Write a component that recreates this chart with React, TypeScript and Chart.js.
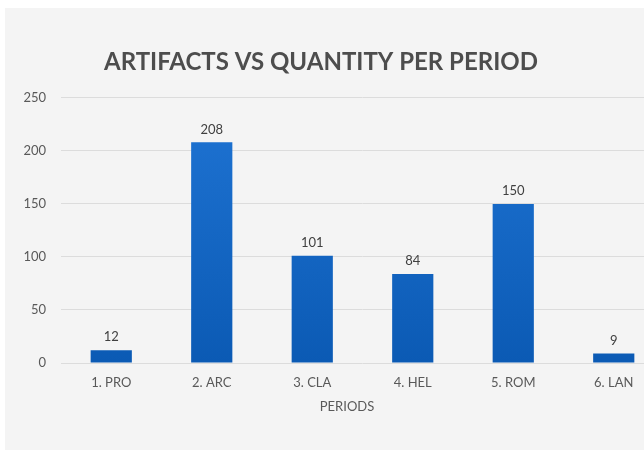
import React, { useEffect, useRef } from "react";
import { Chart, registerables } from "chart.js";

Chart.register(...registerables);

const categories = ["1. PRO", "2. ARC", "3. CLA", "4. HEL", "5. ROM", "6. LAN"];
const quantities = [12, 208, 101, 84, 150, 9];
const yMin = 0;
const yMax = 250;
const yStep = 50;
const chartTitle = "ARTIFACTS VS QUANTITY PER PERIOD";
const xAxisTitle = "PERIODS";

const FONT = "Lato, 'Open Sans', sans-serif";

export default function App() {
  const canvasRef = useRef<HTMLCanvasElement | null>(null);

  useEffect(() => {
    const canvas = canvasRef.current;
    if (!canvas) return;

    const dataLabels = {
      id: "dataLabels",
      afterDatasetsDraw(chart: any) {
        const ctx = chart.ctx;
        const meta = chart.getDatasetMeta(0);
        ctx.save();
        ctx.font = `13px ${FONT}`;
        ctx.fillStyle = "#404040";
        ctx.textAlign = "center";
        ctx.textBaseline = "middle";
        meta.data.forEach((bar: any, i: number) => {
          ctx.fillText(String(quantities[i]), bar.x, bar.y - 13);
        });
        ctx.restore();
      },
    };

    const axisTitle = {
      id: "axisTitle",
      afterDraw(chart: any) {
        const ctx = chart.ctx;
        const xs = chart.scales.x;
        ctx.save();
        ctx.font = `13px ${FONT}`;
        ctx.fillStyle = "#595959";
        ctx.textAlign = "center";
        ctx.textBaseline = "middle";
        ctx.fillText(xAxisTitle, chart.chartArea.left + 286, xs.top + 44);
        ctx.restore();
      },
    };

    const chart = new Chart(canvas, {
      type: "bar",
      data: {
        labels: categories,
        datasets: [
          {
            data: quantities,
            backgroundColor: (c: any) => {
              const area = c.chart.chartArea;
              if (!area) return "#1565c0";
              const g = c.chart.ctx.createLinearGradient(0, area.top, 0, area.bottom);
              g.addColorStop(0, "#1f74d4");
              g.addColorStop(1, "#0b5ab4");
              return g;
            },
            borderWidth: 0,
            barPercentage: 0.41,
            categoryPercentage: 1,
          },
        ],
      },
      options: {
        responsive: false,
        animation: false,
        devicePixelRatio: 1,
        layout: { padding: { left: -27, right: 21, top: 0, bottom: 0 } },
        plugins: {
          legend: { display: false },
          tooltip: { enabled: false },
          title: {
            display: true,
            text: chartTitle,
            color: "#4d4d4d",
            font: { family: FONT, size: 24, weight: "bold", lineHeight: 1.2 },
            padding: { top: 40, bottom: 21 },
          },
        },
        scales: {
          x: {
            grid: { display: false },
            border: { display: false },
            ticks: {
              color: "#595959",
              font: { family: FONT, size: 13 },
              padding: 4,
              maxRotation: 0,
            },
            afterFit(scale: any) {
              scale.height = 87;
            },
          },
          y: {
            min: yMin,
            max: yMax,
            grid: { color: "#dcdcdc", drawTicks: false, lineWidth: 1 },
            border: { display: false },
            ticks: {
              stepSize: yStep,
              color: "#595959",
              font: { family: FONT, size: 13 },
              padding: 15,
            },
            afterFit(scale: any) {
              scale.width = 83;
            },
          },
        },
      },
      plugins: [dataLabels, axisTitle],
    });

    return () => chart.destroy();
  }, []);

  return (
    <div
      style={{
        position: "fixed",
        left: 0,
        top: 0,
        width: 644,
        height: 450,
        background: "#ffffff",
        overflow: "hidden",
      }}
    >
      <div
        style={{
          position: "absolute",
          left: 5,
          top: 8,
          width: 680,
          height: 442,
          background: "#f4f4f4",
        }}
      >
        <canvas ref={canvasRef} width={680} height={442} style={{ display: "block" }} />
      </div>
    </div>
  );
}
